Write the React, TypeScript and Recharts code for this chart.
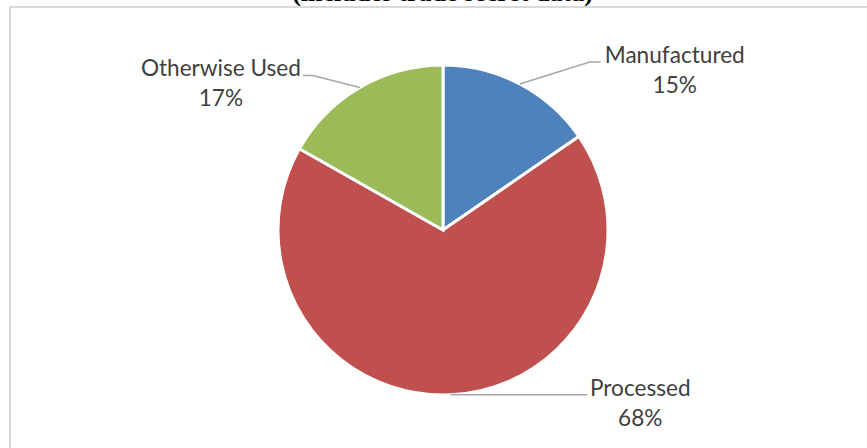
import { PieChart, Pie, Cell } from 'recharts'

const categories = ['Manufactured', 'Processed', 'Otherwise Used']
const shares = [15.4, 67.8, 16.8]
const COLORS = ['#4f81bd', '#c0504d', '#9bbb59']

const data = categories.map((name, i) => ({ name, value: shares[i] }))

// leader line shape per slice: elbow offset from the slice edge, short tail, text centre offset
const LABEL_LAYOUT: Record<string, { elbow: [number, number]; tail: number; textDx: number }> = {
  Manufactured: { elbow: [70, -22], tail: 11, textDx: 74 },
  Processed: { elbow: [137, 0], tail: 0, textDx: 53 },
  'Otherwise Used': { elbow: [-47, -12], tail: -10, textDx: -82 }
}

const RAD = Math.PI / 180

const renderLabel = (props: any) => {
  const { cx, cy, midAngle, outerRadius, percent, name } = props
  const layout = LABEL_LAYOUT[name]
  if (!layout) return null
  const sx = cx + outerRadius * Math.cos(-midAngle * RAD)
  const sy = cy + outerRadius * Math.sin(-midAngle * RAD)
  const mx = sx + layout.elbow[0]
  const my = sy + layout.elbow[1]
  const ex = mx + layout.tail
  const tx = ex + layout.textDx
  return (
    <g>
      <polyline
        points={`${sx},${sy} ${mx},${my} ${ex},${my}`}
        fill="none"
        stroke="#a6a6a6"
        strokeWidth={1.5}
      />
      <text x={tx} y={my + 1} textAnchor="middle" fill="#404040" fontSize={22.6} fontFamily="Lato, 'Noto Sans', sans-serif">
        <tspan x={tx} dy={0}>{name}</tspan>
        <tspan x={tx} dy={30}>{`${Math.round(percent * 100)}%`}</tspan>
      </text>
    </g>
  )
}

export default function App() {
  return (
    <div style={{ position: 'absolute', left: 0, top: 0, width: 867, height: 448, overflow: 'hidden', background: '#fff' }}>
      <div
        style={{
          position: 'absolute',
          left: 0,
          width: 885,
          top: -22,
          textAlign: 'center',
          fontFamily: "'Liberation Serif', 'Times New Roman', serif",
          fontWeight: 'bold',
          fontSize: 26,
          lineHeight: '30px',
          color: '#000',
          whiteSpace: 'nowrap'
        }}
      >
        (includes trade secret data)
      </div>
      <div
        style={{
          position: 'absolute',
          left: 9,
          top: 6,
          width: 880,
          height: 460,
          border: '2px solid #d9d9d9',
          boxSizing: 'border-box'
        }}
      />
      <div style={{ position: 'absolute', left: 0, top: 0 }}>
        <PieChart width={867} height={448} margin={{ top: 0, right: 0, bottom: 0, left: 0 }}>
          <Pie
            data={data}
            dataKey="value"
            nameKey="name"
            cx={443}
            cy={230}
            outerRadius={165}
            startAngle={90}
            endAngle={-270}
            stroke="#fff"
            strokeWidth={3}
            label={renderLabel}
            labelLine={false}
            isAnimationActive={false}
          >
            {data.map((d, i) => (
              <Cell key={d.name} fill={COLORS[i]} />
            ))}
          </Pie>
        </PieChart>
      </div>
    </div>
  )
}
